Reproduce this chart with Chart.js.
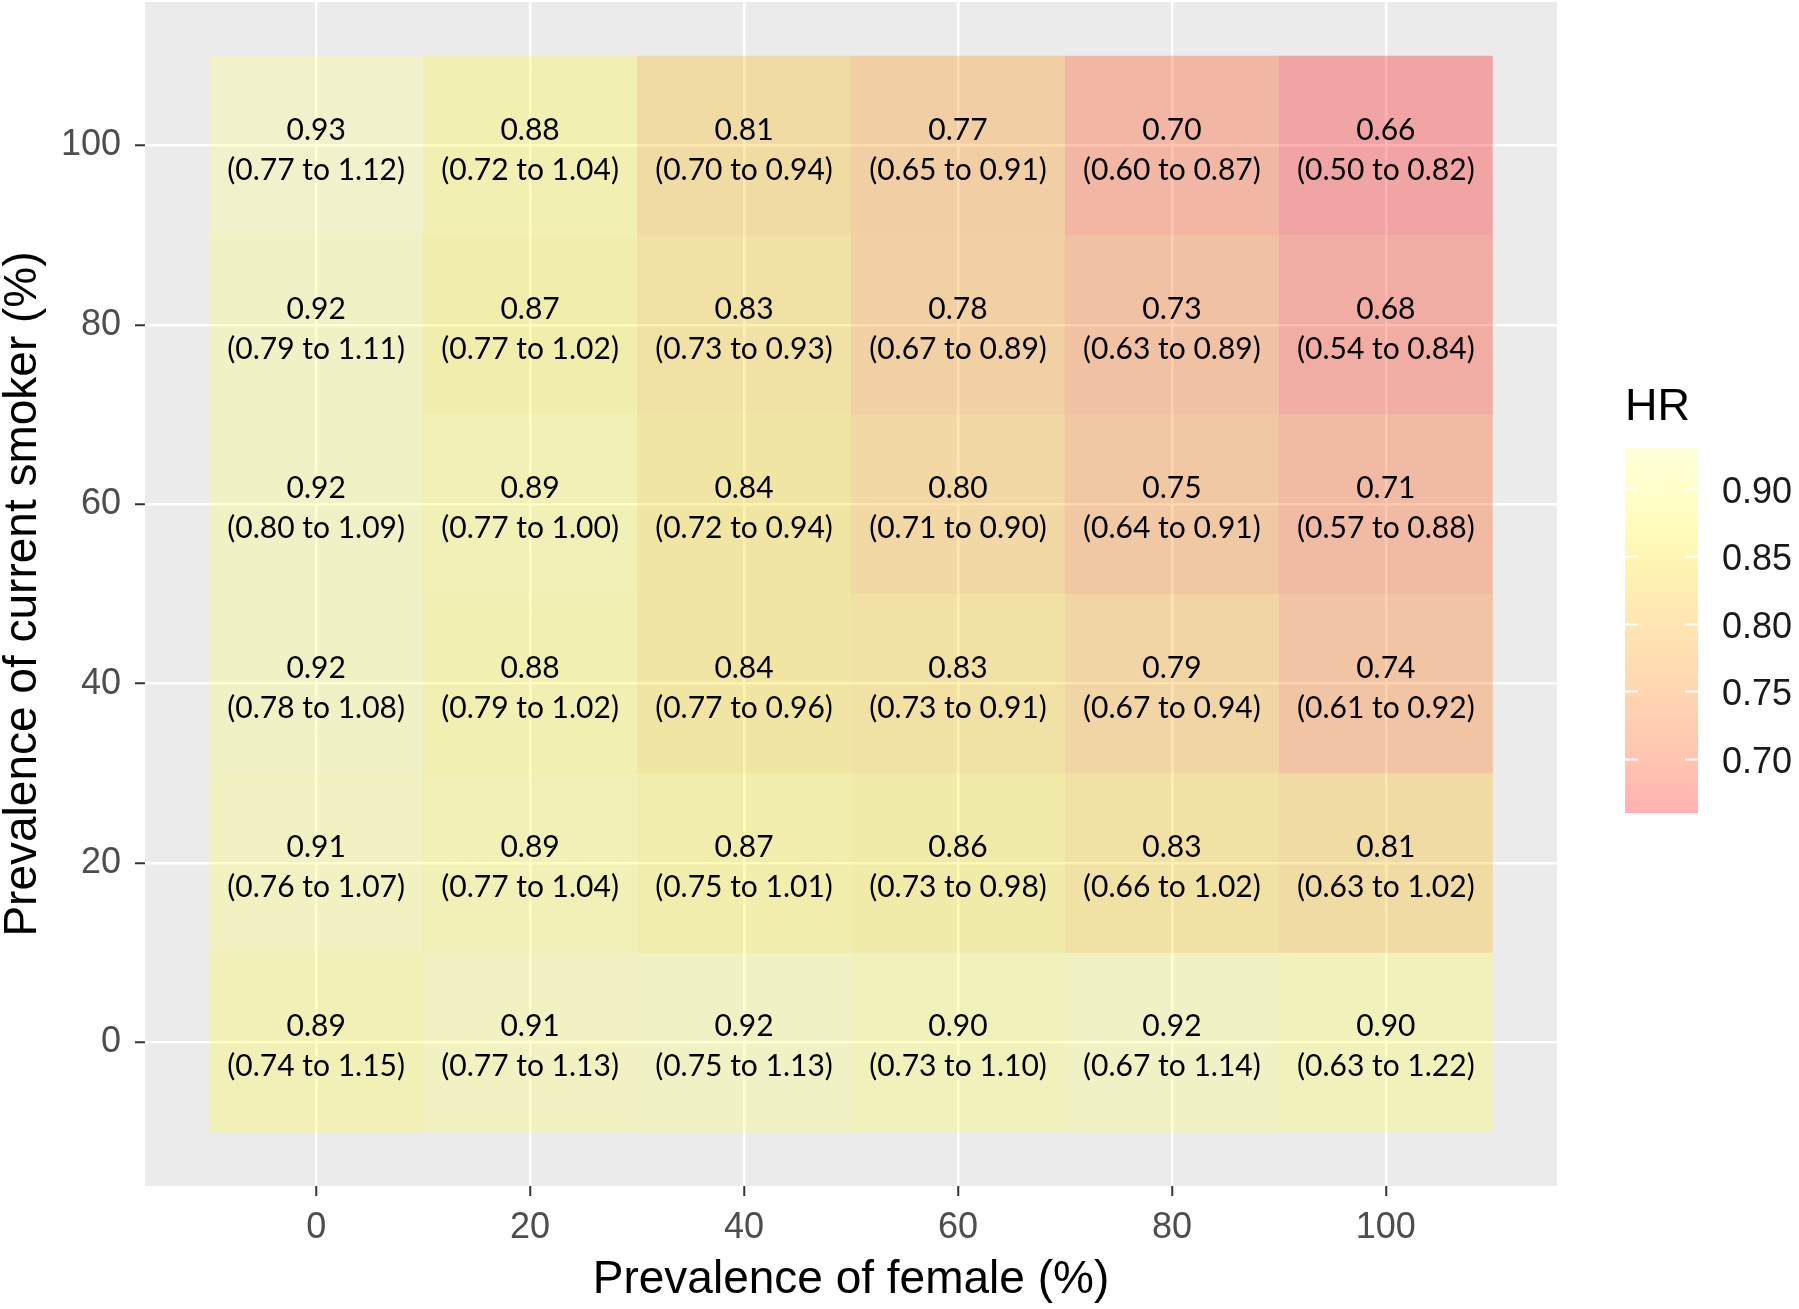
<!DOCTYPE html>
<html><head><meta charset="utf-8">
<script src="https://cdn.jsdelivr.net/npm/chart.js@4.4.0/dist/chart.umd.min.js"></script>
<style>html,body{margin:0;padding:0;background:#fff;}canvas{display:block;}</style>
</head><body>
<canvas id="c" width="1799" height="1309"></canvas>
<script>
// ---------- DATA ----------
const femalePrev = [0, 20, 40, 60, 80, 100];   // x categories (%)
const smokerPrev = [0, 20, 40, 60, 80, 100];   // y categories (%)
const axisTicks = [0, 20, 40, 60, 80, 100];
const legendTicks = [0.70, 0.75, 0.80, 0.85, 0.90];

// HR per smoker row (columns follow femalePrev)
const hr_s0   = [0.89, 0.91, 0.92, 0.90, 0.92, 0.90];
const hr_s20  = [0.91, 0.89, 0.87, 0.86, 0.83, 0.81];
const hr_s40  = [0.92, 0.88, 0.84, 0.83, 0.79, 0.74];
const hr_s60  = [0.92, 0.89, 0.84, 0.80, 0.75, 0.71];
const hr_s80  = [0.92, 0.87, 0.83, 0.78, 0.73, 0.68];
const hr_s100 = [0.93, 0.88, 0.81, 0.77, 0.70, 0.66];

const lo_s0   = [0.74, 0.77, 0.75, 0.73, 0.67, 0.63];
const lo_s20  = [0.76, 0.77, 0.75, 0.73, 0.66, 0.63];
const lo_s40  = [0.78, 0.79, 0.77, 0.73, 0.67, 0.61];
const lo_s60  = [0.80, 0.77, 0.72, 0.71, 0.64, 0.57];
const lo_s80  = [0.79, 0.77, 0.73, 0.67, 0.63, 0.54];
const lo_s100 = [0.77, 0.72, 0.70, 0.65, 0.60, 0.50];

const hi_s0   = [1.15, 1.13, 1.13, 1.10, 1.14, 1.22];
const hi_s20  = [1.07, 1.04, 1.01, 0.98, 1.02, 1.02];
const hi_s40  = [1.08, 1.02, 0.96, 0.91, 0.94, 0.92];
const hi_s60  = [1.09, 1.00, 0.94, 0.90, 0.91, 0.88];
const hi_s80  = [1.11, 1.02, 0.93, 0.89, 0.89, 0.84];
const hi_s100 = [1.12, 1.04, 0.94, 0.91, 0.87, 0.82];

const hrRows = [hr_s0, hr_s20, hr_s40, hr_s60, hr_s80, hr_s100];
const loRows = [lo_s0, lo_s20, lo_s40, lo_s60, lo_s80, lo_s100];
const hiRows = [hi_s0, hi_s20, hi_s40, hi_s60, hi_s80, hi_s100];

// ---------- STYLE ----------
const fillStops = [
  [0.66, [255, 0, 0]],
  [0.70, [255, 62, 0]],
  [0.75, [255, 118, 0]],
  [0.80, [255, 172, 0]],
  [0.84, [255, 214, 0]],
  [0.87, [255, 245, 30]],
  [0.90, [255, 255, 80]],
  [0.93, [255, 255, 128]]
];
const FILL_ALPHA = 0.3;
function fillRGB(v) {
  if (v <= fillStops[0][0]) return fillStops[0][1];
  for (let k = 1; k < fillStops.length; k++) {
    if (v <= fillStops[k][0]) {
      const [v0, c0] = fillStops[k - 1], [v1, c1] = fillStops[k];
      const t = (v - v0) / (v1 - v0);
      return c0.map((c, n) => Math.round(c + (c1[n] - c) * t));
    }
  }
  return fillStops[fillStops.length - 1][1];
}
function fillColor(v) {
  const c = fillRGB(v);
  return `rgba(${c[0]},${c[1]},${c[2]},${FILL_ALPHA})`;
}

// build cells from data arrays
const halfX = (femalePrev[1] - femalePrev[0]) / 2;
const halfY = (smokerPrev[1] - smokerPrev[0]) / 2;
const cells = [];
smokerPrev.forEach((s, i) => {
  femalePrev.forEach((f, j) => {
    cells.push({ x: f, y: [s - halfY, s + halfY], hr: hrRows[i][j], lo: loRows[i][j], hi: hiRows[i][j] });
  });
});

const spanX = femalePrev[femalePrev.length-1] - femalePrev[0] + 2*halfX;
const spanY = smokerPrev[smokerPrev.length-1] - smokerPrev[0] + 2*halfY;
const xMin = femalePrev[0] - halfX - spanX * 0.05;
const xMax = femalePrev[femalePrev.length-1] + halfX + spanX * 0.05;
const yMin = smokerPrev[0] - halfY - spanY * 0.05;
const yMax = smokerPrev[smokerPrev.length-1] + halfY + spanY * 0.05;

const panelBg = {
  id: 'panelBg',
  beforeDraw(chart) {
    const { ctx, chartArea: a } = chart;
    ctx.save();
    ctx.fillStyle = '#ffffff';
    ctx.fillRect(0, 0, chart.width, chart.height);
    ctx.fillStyle = '#EBEBEB';
    ctx.fillRect(a.left, a.top, a.right - a.left, a.bottom - a.top);
    ctx.restore();
  }
};

const cellText = {
  id: 'cellText',
  afterDatasetsDraw(chart) {
    const { ctx } = chart;
    const xs = chart.scales.x, ys = chart.scales.y;
    ctx.save();
    ctx.fillStyle = '#000000';
    ctx.textAlign = 'center';
    ctx.textBaseline = 'alphabetic';
    ctx.font = '30px Lato';
    smokerPrev.forEach((s, i) => {
      femalePrev.forEach((f, j) => {
        const px = xs.getPixelForValue(f);
        const py = ys.getPixelForValue(s);
        ctx.fillText(hrRows[i][j].toFixed(2), px, py - 6);
        ctx.fillText('(' + loRows[i][j].toFixed(2) + ' to ' + hiRows[i][j].toFixed(2) + ')', px, py + 34);
      });
    });
    ctx.restore();
  }
};

const colorLegend = {
  id: 'colorLegend',
  afterDraw(chart) {
    const { ctx } = chart;
    const L = 1625, R = 1698, T = 448, B = 813;
    const vTop = 0.93, vBot = 0.66;
    const yOf = v => T + (vTop - v) / (vTop - vBot) * (B - T);
    ctx.save();
    ctx.fillStyle = '#000000';
    ctx.font = '45px "Liberation Sans", Arial, sans-serif';
    ctx.textAlign = 'left';
    ctx.textBaseline = 'alphabetic';
    ctx.fillText('HR', L, 420);
    const g = ctx.createLinearGradient(0, T, 0, B);
    for (const [v, c] of fillStops) {
      const t = Math.min(1, Math.max(0, (vTop - v) / (vTop - vBot)));
      g.addColorStop(t, `rgba(${c[0]},${c[1]},${c[2]},${FILL_ALPHA})`);
    }
    ctx.fillStyle = g;
    ctx.fillRect(L, T, R - L, B - T);
    ctx.strokeStyle = '#ffffff';
    ctx.lineWidth = 2;
    ctx.fillStyle = '#1a1a1a';
    ctx.font = '36px "Liberation Sans", Arial, sans-serif';
    ctx.textBaseline = 'middle';
    for (const v of legendTicks) {
      const y = Math.round(yOf(v)) + 0.5;
      ctx.beginPath();
      ctx.moveTo(L, y); ctx.lineTo(L + 13, y);
      ctx.moveTo(R - 13, y); ctx.lineTo(R, y);
      ctx.stroke();
      ctx.fillText(v.toFixed(2), 1722, y + 4);
    }
    ctx.restore();
  }
};

const tickFont = { family: '"Liberation Sans", Arial, sans-serif', size: 36 };
const titleFont = { family: '"Liberation Sans", Arial, sans-serif', size: 46, lineHeight: 1 };

new Chart(document.getElementById('c'), {
  type: 'bar',
  data: {
    datasets: [{
      data: cells,
      backgroundColor: ctx => fillColor(ctx.raw.hr),
      borderWidth: 0,
      inflateAmount: 0,
      grouped: false,
      categoryPercentage: 1,
      barPercentage: 1
    }]
  },
  options: {
    responsive: false,
    animation: false,
    devicePixelRatio: 1,
    layout: { padding: { left: 0, right: 242, top: 2, bottom: 0 } },
    plugins: { legend: { display: false }, tooltip: { enabled: false } },
    scales: {
      x: {
        type: 'linear',
        min: xMin, max: xMax,
        offset: false,
        afterBuildTicks: s => { s.ticks = axisTicks.map(v => ({ value: v })); },
        afterFit: s => { s.height = 123; s.paddingLeft = 0; s.paddingRight = 0; },
        grid: { offset: false, color: '#ffffff', lineWidth: 2.5, tickLength: 10, tickColor: '#333333', tickWidth: 2 },
        border: { display: false },
        ticks: { font: tickFont, color: '#4D4D4D', padding: 10, maxRotation: 0 },
        title: { display: true, text: 'Prevalence of female (%)', font: titleFont, color: '#000000', padding: { top: 0, bottom: 6 } }
      },
      y: {
        type: 'linear',
        min: yMin, max: yMax,
        afterBuildTicks: s => { s.ticks = axisTicks.map(v => ({ value: v })); },
        afterFit: s => { s.width = 145; s.paddingTop = 0; s.paddingBottom = 0; },
        grid: { color: '#ffffff', lineWidth: 2.5, tickLength: 10, tickColor: '#333333', tickWidth: 2 },
        border: { display: false },
        ticks: { font: tickFont, color: '#4D4D4D', padding: 14 },
        title: { display: true, text: 'Prevalence of current smoker (%)', font: titleFont, color: '#000000', padding: { top: 0, bottom: 0 } }
      }
    }
  },
  plugins: [panelBg, cellText, colorLegend]
});
</script>
</body></html>
